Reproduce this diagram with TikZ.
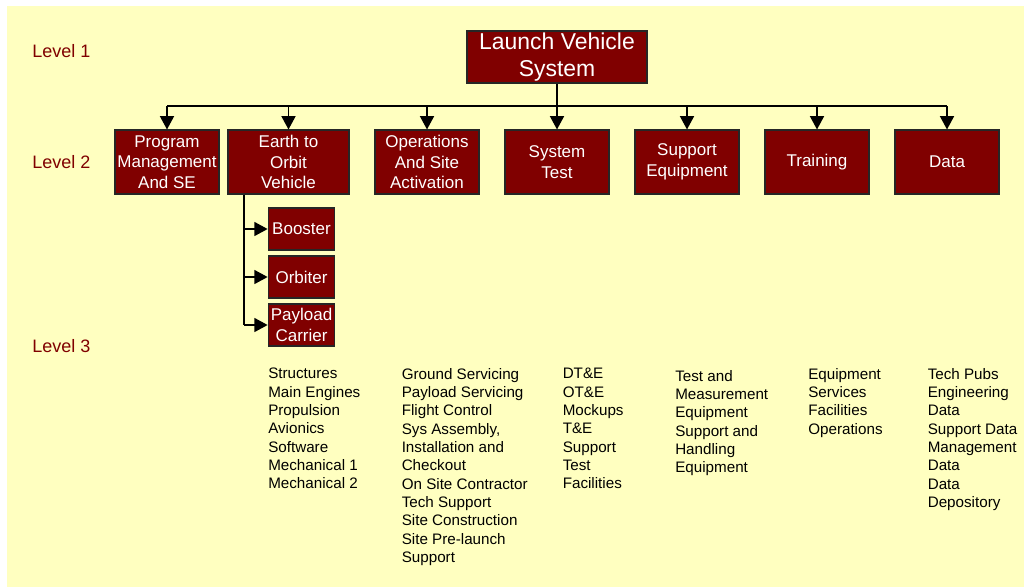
\documentclass[tikz,border=0pt]{standalone}
\usepackage{fontspec}
\setmainfont{Liberation Sans}
\usetikzlibrary{arrows.meta}
\definecolor{wbsback}{RGB}{255,255,192}
\definecolor{wbsred}{RGB}{128,0,0}
\tikzset{
  wbsbox/.style={draw=black!85,fill=wbsred,text=white,align=center,inner sep=0pt,
    line width=0.8pt,minimum width=78pt,minimum height=48pt,
    font=\fontsize{12.75}{15.4}\selectfont},
  subbox/.style={wbsbox,minimum width=50pt,minimum height=31.5pt},
  lvlabel/.style={text=wbsred,anchor=west,inner sep=0pt,font=\fontsize{13.5}{16}\selectfont},
  itemlist/.style={anchor=north west,align=left,inner sep=0pt,font=\fontsize{11.4}{13.75}\selectfont},
  link/.style={line width=1.2pt},
  tree arrow/.style={link,-{Triangle[width=10.5pt,length=10pt]}}
}
\begin{document}
\begin{tikzpicture}[x=0.75pt,y=-0.75pt]
  \useasboundingbox (0,0) rectangle (1024,587);
  \fill[wbsback] (7,6) rectangle (1024,587);

  \node[lvlabel] (lv1) at (32,51) {Level 1};
  \node[lvlabel] (lv2) at (32,162) {Level 2};
  \node[lvlabel] (lv3) at (32,346) {Level 3};

  \node[wbsbox,minimum width=135pt,minimum height=39pt,font=\fontsize{17.2}{20}\selectfont]
    (lvs) at (557,57) {Launch Vehicle\\System};

  \node[wbsbox] (pm) at (167,162) {Program\\Management\\And SE};
  \node[wbsbox,minimum width=90.75pt] (eto) at (288.5,162) {Earth to\\Orbit\\Vehicle};
  \node[wbsbox] (ops) at (427,162) {Operations\\And Site\\Activation};
  \node[wbsbox] (st) at (557,162) {System\\Test};
  \node[wbsbox] (se) at (687,162) {Support\\Equipment};
  \node[wbsbox] (trn) at (817,162) {Training};
  \node[wbsbox] (dat) at (947,162) {Data};

  \node[subbox] (boost) at (301.5,229) {Booster};
  \node[subbox] (orb) at (301.5,277) {Orbiter};
  \node[subbox] (pay) at (301.5,325) {Payload\\Carrier};

  \coordinate (bus) at (557,106);
  \coordinate (spine) at (244,325);
  \draw[link] (lvs) -- (bus);
  \draw[link] (pm.north |- bus) -- (dat.north |- bus);
  \foreach \b in {pm,eto,ops,st,se,trn,dat}
    \draw[tree arrow] (\b.north |- bus) -- (\b.north);
  \draw[link] (eto.south -| spine) -- (spine);
  \foreach \b in {boost,orb,pay}
    \draw[tree arrow] (\b.west -| spine) -- (\b.west);

  \node[itemlist] (l1) at (268,368) {Structures\\Main Engines\\Propulsion\\Avionics\\Software\\Mechanical 1\\Mechanical 2};
  \node[itemlist] (l2) at (401.5,368) {Ground Servicing\\Payload Servicing\\Flight Control\\Sys Assembly,\\Installation and\\Checkout\\On Site Contractor\\Tech Support\\Site Construction\\Site Pre-launch\\Support};
  \node[itemlist] (l3) at (562.5,368) {DT\&E\\OT\&E\\Mockups\\T\&E\\Support\\Test\\Facilities};
  \node[itemlist] (l4) at (675,370) {Test and\\Measurement\\Equipment\\Support and\\Handling\\Equipment};
  \node[itemlist] (l5) at (808,368) {Equipment\\Services\\Facilities\\Operations};
  \node[itemlist] (l6) at (927.5,368) {Tech Pubs\\Engineering\\Data\\Support Data\\Management\\Data\\Data\\Depository};
\end{tikzpicture}
\end{document}
